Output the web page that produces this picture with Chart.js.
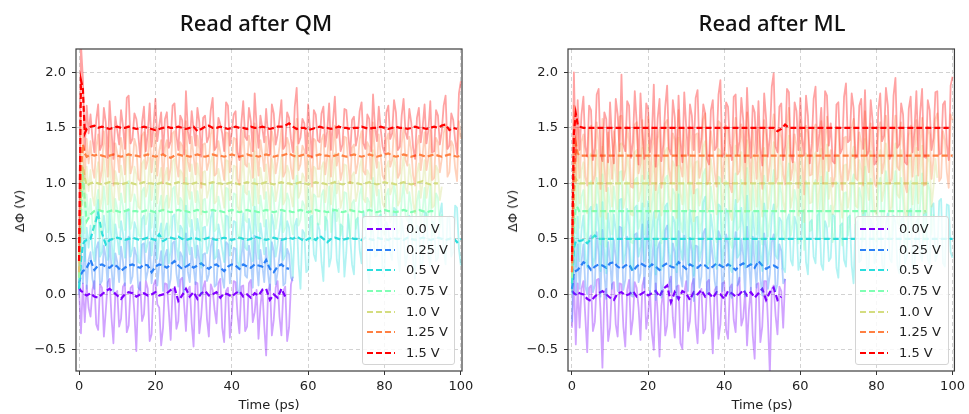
<!DOCTYPE html>
<html><head><meta charset="utf-8">
<script src="https://cdn.jsdelivr.net/npm/chart.js@4.4.1/dist/chart.umd.min.js"></script>
<style>
html,body{margin:0;padding:0;background:#fff;}
#root{position:relative;width:969px;height:414px;overflow:hidden;font-family:"DejaVu Sans",sans-serif;color:#222;}
.pane{position:absolute;top:0;height:414px;}
.title{position:absolute;top:8px;font-family:"Noto Sans",sans-serif;font-size:22px;font-weight:500;color:#111;transform:translateX(-50%);white-space:nowrap;line-height:28px;}
.xlab{position:absolute;top:397px;font-size:13px;transform:translateX(-50%);white-space:nowrap;line-height:16px;}
.ylab{position:absolute;font-size:13px;white-space:nowrap;line-height:16px;transform:translate(-50%,-50%) rotate(-90deg);}
.legend{position:absolute;top:216px;height:149px;box-sizing:border-box;border:1px solid #d4d4d4;border-radius:3px;background:rgba(255,255,255,0.82);}
.row{position:absolute;left:0;right:0;height:20px;}
.row svg{position:absolute;left:4px;top:8px;}
.row span{position:absolute;left:43px;top:2px;font-size:13px;line-height:16px;white-space:nowrap;}
</style></head>
<body><div id="root">
<div class="pane" style="left:0;width:480px;"><canvas id="cQM" width="480" height="414"></canvas></div>
<div class="pane" style="left:480px;width:489px;"><canvas id="cML" width="489" height="414"></canvas></div>
<div class="title" style="left:256px;">Read after QM</div>
<div class="title" style="left:772px;">Read after ML</div>
<div class="xlab" style="left:269px;">Time (ps)</div>
<div class="xlab" style="left:762px;">Time (ps)</div>
<div class="ylab" style="left:20px;top:211px;">ΔΦ (V)</div>
<div class="ylab" style="left:513px;top:211px;">ΔΦ (V)</div>
<div class="legend" id="legQM" style="left:362px;width:93px;"></div>
<div class="legend" id="legML" style="left:855px;width:94px;"></div>
</div>
<script>
// time grid of the running averages (ps)
const T = [0,0.5,1,1.5,2,3,4,5,6,7,8,9,10,11,12,13,14,15,16,17,18,19,20,21,22,23,24,25,26,27,28,29,30,31,32,33,34,35,36,37,38,39,40,41,42,43,44,45,46,47,48,49,50,51,52,53,54,55,56,57,58,59,60,61,62,63,64,65,66,67,68,69,70,71,72,73,74,75,76,77,78,79,80,81,82,83,84,85,86,87,88,89,90,91,92,93,94,95,96,97,98,99,100];
// time grid of the raw traces (ps)
const TR = [0,0.5,1,1.5,2,2.5,3,3.5,4,4.5,5,5.5,6,6.5,7,7.5,8,8.5,9,9.5,10,10.5,11,11.5,12,12.5,13,13.5,14,14.5,15,15.5,16,16.5,17,17.5,18,18.5,19,19.5,20,20.5,21,21.5,22,22.5,23,23.5,24,24.5,25,25.5,26,26.5,27,27.5,28,28.5,29,29.5,30,30.5,31,31.5,32,32.5,33,33.5,34,34.5,35,35.5,36,36.5,37,37.5,38,38.5,39,39.5,40,40.5,41,41.5,42,42.5,43,43.5,44,44.5,45,45.5,46,46.5,47,47.5,48,48.5,49,49.5,50,50.5,51,51.5,52,52.5,53,53.5,54,54.5,55,55.5,56,56.5,57,57.5,58,58.5,59,59.5,60,60.5,61,61.5,62,62.5,63,63.5,64,64.5,65,65.5,66,66.5,67,67.5,68,68.5,69,69.5,70,70.5,71,71.5,72,72.5,73,73.5,74,74.5,75,75.5,76,76.5,77,77.5,78,78.5,79,79.5,80,80.5,81,81.5,82,82.5,83,83.5,84,84.5,85,85.5,86,86.5,87,87.5,88,88.5,89,89.5,90,90.5,91,91.5,92,92.5,93,93.5,94,94.5,95,95.5,96,96.5,97,97.5,98,98.5,99,99.5,100];
const labelsQM = ['0.0 V','0.25 V','0.5 V','0.75 V','1.0 V','1.25 V','1.5 V'];
const labelsML = ['0.0V','0.25 V','0.5 V','0.75 V','1.0 V','1.25 V','1.5 V'];
const xTicks = [0,20,40,60,80,100];
const yTicks = [-0.5,0,0.5,1,1.5,2];

// ================= Read after QM : raw traces =================
const qmRaw150 = [0.4,2.25,1.95,1.3,1.7,1.45,
1.62,1.41,1.28,1.57,1.71,1.30,1.35,1.68,1.55,1.23,1.74,1.47,1.22,1.60,1.48,1.35,1.66,1.52,1.31,1.77,
1.79,1.36,1.40,1.63,1.58,1.44,1.25,1.55,1.69,1.29,1.45,1.72,1.33,1.51,1.76,1.38,1.52,1.64,1.27,1.58,
1.64,1.32,1.38,1.70,1.72,1.43,1.30,1.61,1.57,1.26,1.83,1.47,1.36,1.65,1.49,1.34,1.68,1.55,1.24,1.59,
1.61,1.37,1.42,1.66,1.77,1.30,1.33,1.59,1.53,1.45,1.29,1.73,1.70,1.34,1.46,1.62,1.65,1.28,1.21,1.54,
1.74,1.42,1.39,1.68,1.56,1.29,1.81,1.52,1.32,1.61,1.50,1.37,1.67,1.44,1.26,1.71,1.63,1.35,1.44,1.58,
1.75,1.31,1.34,1.64,1.59,1.40,1.28,1.69,1.86,1.36,1.41,1.58,1.54,1.27,1.71,1.48,1.23,1.66,1.62,1.39,
1.37,1.63,1.69,1.33,1.47,1.72,1.30,1.55,1.78,1.41,1.52,1.29,1.35,1.67,1.66,1.44,1.25,1.57,1.60,1.34,
1.43,1.65,1.73,1.36,1.31,1.62,1.58,1.29,1.80,1.51,1.38,1.69,1.49,1.33,1.27,1.64,1.70,1.40,1.45,1.75,
1.64,1.30,1.33,1.61,1.76,1.46,1.40,1.67,1.55,1.32,1.22,1.59,1.68,1.37,1.51,1.71,1.36,1.48,1.74,1.28,
1.29,1.66,1.61,1.35,1.47,1.70,1.79,1.31,1.34,1.63,1.57,1.39,1.26,1.81,1.92];
const qmRaw125 = [0.2,1.6,1.4,1.05,1.4,1.18,
1.38,1.14,1.05,1.33,1.44,1.01,1.12,1.47,1.30,1.06,1.49,1.22,0.98,1.36,1.27,1.10,1.41,1.29,1.08,1.51,
1.52,1.09,1.16,1.40,1.33,1.04,1.02,1.43,1.46,1.13,1.21,1.48,1.10,1.27,1.50,1.07,1.29,1.39,1.00,1.32,
1.39,1.03,1.14,1.45,1.47,1.18,1.06,1.37,1.34,1.01,1.56,1.20,1.11,1.42,1.24,1.08,1.43,1.31,0.96,1.35,
1.36,1.12,1.19,1.44,1.51,1.07,1.09,1.38,1.28,1.15,1.03,1.46,1.45,1.10,1.22,1.41,1.40,1.04,0.99,1.30,
1.48,1.17,1.15,1.43,1.31,1.05,1.54,1.28,1.07,1.39,1.26,1.11,1.42,1.19,1.01,1.47,1.37,1.09,1.20,1.33,
1.49,1.06,1.10,1.41,1.35,1.14,1.04,1.44,1.58,1.12,1.17,1.34,1.30,1.02,1.46,1.23,0.97,1.40,1.38,1.13,
1.13,1.39,1.44,1.08,1.23,1.47,1.06,1.30,1.52,1.16,1.27,1.03,1.11,1.42,1.41,1.19,1.00,1.32,1.35,1.09,
1.18,1.40,1.47,1.11,1.08,1.37,1.33,1.04,1.55,1.26,1.14,1.44,1.25,1.07,1.03,1.39,1.45,1.15,1.21,1.50,
1.39,1.05,1.09,1.36,1.50,1.21,1.16,1.42,1.30,1.07,0.98,1.34,1.43,1.12,1.26,1.46,1.12,1.23,1.48,1.03,
1.05,1.41,1.37,1.10,1.22,1.45,1.53,1.06,1.10,1.38,1.34,1.14,1.02,1.56,1.40];
const qmRaw100 = [0.15,1.3,1.2,0.8,1.15,0.93,
1.12,0.89,0.80,1.08,1.19,0.76,0.87,1.22,1.05,0.81,1.24,0.97,0.74,1.11,1.02,0.85,1.16,1.04,0.83,1.26,
1.27,0.84,0.91,1.15,1.08,0.79,0.77,1.18,1.21,0.88,0.96,1.23,0.85,1.02,1.25,0.82,1.04,1.14,0.76,1.07,
1.14,0.78,0.89,1.20,1.22,0.93,0.81,1.12,1.09,0.76,1.30,0.95,0.86,1.17,0.99,0.83,1.18,1.06,0.72,1.10,
1.11,0.87,0.94,1.19,1.26,0.82,0.84,1.13,1.03,0.90,0.78,1.21,1.20,0.85,0.97,1.16,1.15,0.79,0.75,1.05,
1.23,0.92,0.90,1.18,1.06,0.80,1.29,1.03,0.82,1.14,1.01,0.86,1.17,0.94,0.76,1.22,1.12,0.84,0.95,1.08,
1.24,0.81,0.85,1.16,1.10,0.89,0.79,1.19,1.33,0.87,0.92,1.09,1.05,0.77,1.21,0.98,0.73,1.15,1.13,0.88,
0.88,1.14,1.19,0.83,0.98,1.22,0.81,1.05,1.27,0.91,1.02,0.78,0.86,1.17,1.16,0.94,0.75,1.07,1.10,0.84,
0.93,1.15,1.22,0.86,0.83,1.12,1.08,0.79,1.30,1.01,0.89,1.19,1.00,0.82,0.78,1.14,1.20,0.90,0.96,1.25,
1.14,0.80,0.84,1.11,1.25,0.96,0.91,1.17,1.05,0.82,0.73,1.09,1.18,0.87,1.01,1.21,0.87,0.98,1.23,0.78,
0.80,1.16,1.12,0.85,0.97];
const qmRaw075 = [0.1,0.6,1.15,0.55,0.9,0.68,
0.86,0.64,0.55,0.83,0.94,0.51,0.62,0.97,0.80,0.56,0.99,0.72,0.50,0.86,0.77,0.60,0.91,0.79,0.58,1.01,
1.02,0.59,0.66,0.90,0.83,0.54,0.52,0.93,0.96,0.63,0.71,0.98,0.60,0.77,1.00,0.57,0.79,0.89,0.51,0.82,
0.89,0.53,0.64,0.95,0.97,0.68,0.56,0.87,0.84,0.51,1.05,0.70,0.61,0.92,0.74,0.58,0.93,0.81,0.48,0.85,
0.86,0.62,0.69,0.94,1.01,0.57,0.59,0.88,0.78,0.65,0.53,0.96,0.95,0.60,0.72,0.91,0.90,0.54,0.50,0.80,
0.98,0.67,0.65,0.93,0.81,0.55,1.04,0.78,0.57,0.89,0.76,0.61,0.92,0.69,0.51,0.97,0.87,0.59,0.70,0.83,
0.99,0.56,0.60,0.91,0.85,0.64,0.54,0.94,1.07,0.62,0.67,0.84,0.80,0.52,0.96,0.73,0.49,0.90,0.88,0.63,
0.63,0.89,0.94,0.58,0.73,0.97,0.56,0.80,1.02,0.66,0.77,0.53,0.61,0.92,0.91,0.69,0.50,0.82,0.85,0.59,
0.68,0.90,0.97,0.61,0.58,0.87,0.83,0.54,1.05,0.76,0.64,0.94,0.75,0.57,0.53,0.89,0.95,0.65,0.71,1.00,
0.89,0.55,0.59,0.86,1.00,0.71,0.66,0.92,0.80,0.57,0.48,0.84,0.93,0.62,0.76,0.96,0.62,0.73,0.98,0.53,
0.55,0.91,0.87,0.60,0.72];
const qmRaw050 = [0.05,0.35,0.7,0.3,0.6,0.42,
0.62,0.40,0.30,0.69,0.85,0.34,0.38,0.71,0.58,0.31,0.74,0.48,0.27,0.63,0.52,0.36,0.66,0.55,0.33,0.76,
0.77,0.34,0.41,0.65,0.59,0.29,0.28,0.68,0.71,0.38,0.46,0.73,0.35,0.52,0.75,0.32,0.54,0.64,0.26,0.57,
0.64,0.28,0.39,0.70,0.72,0.43,0.31,0.62,0.59,0.26,0.80,0.45,0.36,0.67,0.49,0.33,0.68,0.56,0.24,0.60,
0.61,0.37,0.44,0.69,0.76,0.32,0.34,0.63,0.53,0.40,0.29,0.71,0.70,0.35,0.47,0.66,0.65,0.29,0.25,0.55,
0.73,0.42,0.40,0.68,0.56,0.30,0.79,0.53,0.32,0.64,0.51,0.36,0.67,0.44,0.26,0.72,0.62,0.34,0.45,0.58,
0.74,0.31,0.35,0.66,0.60,0.41,0.15,0.62,0.68,0.27,0.05,0.58,0.55,0.20,0.22,0.69,0.71,0.36,0.30,0.64,
0.58,0.29,0.12,0.70,0.66,0.25,0.33,0.77,0.74,0.31,0.20,0.63,0.61,0.16,0.38,0.72,0.52,0.27,0.18,0.67,
0.69,0.40,0.28,0.75,0.63,0.22,0.10,0.59,0.57,0.34,0.35,0.70,0.72,0.19,0.24,0.65,0.60,0.37,0.31,0.78,
0.76,0.33,0.21,0.68,0.54,0.26,0.36,0.71,0.67,0.30,0.14,0.62,0.59,0.23,0.29,0.74,0.73,0.35,0.25,0.66,
0.64,0.30,0.33,0.72,0.82,0.40,0.27,0.69,0.70,0.34,0.38,0.80,0.78,0.41,0.26];
const qmRaw025 = [0.0,0.4,0.1,0.45,0.05,0.31,
0.38,0.14,0.05,0.41,0.47,0.09,0.12,0.44,0.33,0.07,0.50,0.23,0.02,0.37,0.29,0.11,0.43,0.30,0.08,0.48,
0.52,0.10,0.16,0.42,0.35,0.06,0.04,0.45,0.46,0.13,0.21,0.47,0.10,0.28,0.49,0.08,0.27,0.39,0.03,0.34,
0.40,0.05,0.14,0.46,0.48,0.19,0.07,0.38,0.34,0.02,0.55,0.20,0.11,0.42,0.24,0.09,0.44,0.31,0.00,0.36,
0.37,0.12,0.18,0.43,0.51,0.07,0.09,0.40,0.30,0.15,0.06,0.47,0.45,0.10,0.22,0.42,0.41,0.04,0.01,0.33,
0.49,0.17,0.15,0.44,0.32,0.06,0.53,0.28,0.08,0.40,0.26,0.11,0.42,0.19,0.04,0.47,0.39,0.09,0.20,0.35,
0.50,0.08,0.10,0.41,0.36,0.15,0.12];
const qmRaw000 = [0.05,-0.35,0.1,-0.25,0.08,-0.12,
-0.20,0.04,0.12,-0.27,-0.32,0.09,0.06,-0.38,-0.15,0.11,0.14,-0.21,-0.44,0.01,0.03,-0.29,-0.22,0.07,0.10,-0.34,
-0.28,0.06,0.08,-0.17,-0.51,0.02,0.11,-0.24,-0.18,0.12,0.05,-0.42,-0.36,0.08,0.13,-0.09,-0.12,-0.46,-0.30,0.10,
0.09,-0.15,-0.41,0.05,0.02,-0.31,-0.24,0.13,0.15,-0.08,-0.33,0.04,0.07,-0.26,-0.47,0.11,0.10,-0.35,-0.19,0.06,
0.12,-0.22,-0.38,0.09,0.04,-0.14,-0.26,0.10,0.14,-0.30,-0.43,0.03,0.06,-0.39,-0.21,0.12,0.11,-0.18,-0.35,0.07,
0.08,-0.33,-0.29,0.10,0.13,-0.25,-0.16,0.04,-0.40,-0.11,0.05,-0.28,-0.55,0.02,0.09,-0.37,-0.23,0.06,0.12,-0.20,
-0.37,0.03,0.07,-0.42,-0.30,0.09,0.16];

// ================= Read after QM : running averages =================
const qmAvg150 = [0.3,1.93,1.85,1.45,1.49,
1.51,1.52,1.50,1.51,1.50,1.49,1.50,1.51,1.50,1.50,
1.51,1.50,1.49,1.50,1.51,1.50,1.49,1.48,1.49,1.50,
1.51,1.50,1.50,1.51,1.50,1.49,1.50,1.51,1.47,1.49,
1.51,1.52,1.50,1.50,1.51,1.50,1.49,1.50,1.51,1.50,
1.50,1.49,1.51,1.50,1.50,1.51,1.50,1.49,1.50,1.51,
1.51,1.52,1.54,1.51,1.49,1.50,1.50,1.48,1.49,1.50,
1.51,1.50,1.50,1.49,1.50,1.51,1.50,1.50,1.49,1.50,
1.50,1.51,1.50,1.49,1.50,1.50,1.51,1.50,1.49,1.50,
1.51,1.50,1.50,1.49,1.50,1.51,1.50,1.50,1.49,1.50,
1.51,1.50,1.52,1.53,1.48,1.50,1.49];
const qmAvg125 = [0.3,1.1,1.35,1.27,1.24,
1.26,1.25,1.26,1.25,1.24,1.25,1.26,1.25,1.24,1.25,
1.26,1.25,1.25,1.24,1.25,1.26,1.25,1.24,1.25,1.26,
1.24,1.23,1.25,1.26,1.25,1.25,1.24,1.25,1.26,1.25,
1.24,1.25,1.26,1.25,1.25,1.24,1.25,1.26,1.25,1.24,
1.25,1.26,1.25,1.25,1.24,1.25,1.26,1.25,1.24,1.25,
1.25,1.26,1.27,1.25,1.24,1.25,1.26,1.25,1.24,1.25,
1.26,1.25,1.25,1.24,1.25,1.26,1.25,1.24,1.25,1.26,
1.25,1.24,1.25,1.26,1.25,1.24,1.25,1.26,1.27,1.25,
1.24,1.25,1.26,1.25,1.24,1.25,1.26,1.25,1.24,1.25,
1.26,1.25,1.24,1.25,1.26,1.25,1.24,1.25];
const qmAvg100 = [0.2,0.9,1.15,1.05,0.98,
1.00,1.01,1.00,0.99,1.00,1.01,1.00,1.00,0.99,1.00,
1.01,1.00,0.99,1.00,1.01,1.00,1.00,0.99,1.00,1.01,
1.00,0.99,1.00,1.01,1.00,1.00,0.99,1.00,1.01,1.00,
0.99,1.00,1.01,1.00,1.00,0.99,1.00,1.01,1.00,0.99,
1.00,1.01,1.00,1.00,0.99,1.00,1.01,1.00,0.99,1.00,
1.01,1.00,1.00,0.99,1.00,1.01,1.00,0.99,1.00,1.01,
1.00,1.00,0.99,1.00,1.01,1.00,0.99,1.00,1.01,1.00,
1.00,0.99,1.00,1.01,1.00,0.99,1.00,1.01,1.00,1.00,
0.99,1.00,1.01,1.00,0.99,1.00,1.01,1.02,1.00,0.99,
1.00,1.00];
const qmAvg075 = [0.15,0.7,1.1,0.85,0.66,
0.72,0.75,0.76,0.75,0.74,0.75,0.76,0.75,0.74,0.75,
0.76,0.75,0.75,0.74,0.75,0.76,0.75,0.74,0.75,0.76,
0.75,0.74,0.75,0.76,0.75,0.75,0.74,0.75,0.76,0.75,
0.74,0.75,0.76,0.75,0.75,0.74,0.75,0.76,0.75,0.74,
0.75,0.76,0.75,0.75,0.74,0.75,0.76,0.75,0.74,0.75,
0.76,0.75,0.75,0.74,0.75,0.76,0.75,0.74,0.75,0.76,
0.75,0.75,0.74,0.75,0.76,0.75,0.74,0.75,0.76,0.75,
0.75,0.74,0.75,0.76,0.75,0.74,0.75,0.76,0.75,0.75,
0.74,0.75,0.76,0.75,0.74,0.75,0.76,0.75,0.74,0.75,
0.75];
const qmAvg050 = [0.05,0.3,0.45,0.48,0.49,
0.50,0.62,0.73,0.55,0.45,0.49,0.50,0.51,0.50,0.49,
0.50,0.51,0.50,0.49,0.50,0.51,0.50,0.49,0.54,0.48,
0.50,0.51,0.50,0.52,0.50,0.49,0.50,0.51,0.50,0.49,
0.50,0.51,0.50,0.49,0.50,0.51,0.50,0.49,0.50,0.51,
0.50,0.49,0.50,0.52,0.51,0.50,0.49,0.50,0.51,0.50,
0.49,0.50,0.51,0.50,0.52,0.50,0.48,0.50,0.51,0.49,
0.53,0.50,0.47,0.50,0.51,0.50,0.49,0.50,0.51,0.50,
0.50,0.49,0.51,0.50,0.49,0.51,0.50,0.50,0.49,0.51,
0.50,0.50,0.49,0.51,0.50,0.49,0.50,0.51,0.50,0.49,
0.50,0.51,0.50,0.49,0.50,0.51,0.47,0.50];
const qmAvg025 = [0.1,0.18,0.21,0.22,0.24,
0.31,0.22,0.26,0.27,0.25,0.24,0.27,0.25,0.21,0.24,
0.26,0.27,0.25,0.24,0.27,0.26,0.20,0.25,0.27,0.26,
0.24,0.27,0.30,0.26,0.23,0.25,0.27,0.24,0.26,0.28,
0.25,0.23,0.26,0.27,0.24,0.21,0.25,0.27,0.26,0.23,
0.27,0.25,0.24,0.27,0.26,0.25,0.31,0.23,0.20,0.25,
0.27,0.24,0.23];
const qmAvg000 = [0.06,0.03,0.02,0.0,-0.01,
0.01,-0.02,-0.03,0.00,0.03,0.05,0.02,-0.01,-0.04,0.00,
0.02,0.01,-0.02,0.00,0.01,-0.01,0.00,0.02,-0.01,0.00,
0.01,0.04,0.06,-0.06,-0.01,0.05,-0.02,0.02,-0.04,0.01,
0.03,-0.01,0.00,0.02,-0.03,0.01,0.00,-0.02,0.01,0.03,
-0.02,0.00,-0.03,0.01,-0.01,0.04,0.05,-0.05,0.00,-0.03,
0.05,-0.02];

// ================= Read after ML : raw traces =================
const mlRaw150 = [0.3,2.0,1.2,1.75,1.3,1.62,
1.78,1.33,1.24,1.70,1.66,1.21,1.32,1.80,1.85,1.27,1.20,1.64,1.58,1.19,1.73,1.41,1.18,1.76,1.62,1.29,
1.98,1.35,1.29,1.74,1.70,1.23,1.37,1.83,1.55,1.17,1.81,1.46,1.22,1.72,1.67,1.28,1.44,1.89,1.15,1.58,
1.76,1.20,1.35,1.69,1.88,1.31,1.26,1.75,1.60,1.16,1.79,1.39,1.19,1.82,1.52,1.25,1.71,1.61,1.30,1.77,
1.84,1.28,1.40,1.71,1.63,1.22,1.17,1.66,1.75,1.30,1.33,1.80,1.93,1.24,1.27,1.73,1.69,1.36,1.21,1.78,
1.80,1.26,1.38,1.77,1.57,1.19,1.86,1.45,1.23,1.70,1.64,1.27,1.74,1.32,1.16,1.81,1.59,1.24,1.42,1.87,
1.99,1.33,1.28,1.69,1.72,1.21,1.34,1.85,1.82,1.26,1.19,1.73,1.65,1.30,1.77,1.40,1.25,1.79,1.61,1.18,
1.36,1.76,1.87,1.29,1.45,1.68,1.22,1.83,1.79,1.34,1.54,1.20,1.18,1.71,1.73,1.27,1.31,1.78,1.90,1.37,
1.39,1.81,1.68,1.23,1.24,1.70,1.76,1.31,1.84,1.25,1.29,1.75,1.56,1.17,1.20,1.66,1.81,1.38,1.43,1.86,
1.70,1.22,1.26,1.79,1.95,1.32,1.35,1.72,1.62,1.19,1.17,1.67,1.78,1.28,1.48,1.83,1.30,1.64,1.85,1.24,
1.23,1.75,1.66,1.30,1.41,1.82,1.83,1.26,1.27,1.71,1.74,1.35,1.21,1.88,1.96];
const mlRaw125 = [0.2,1.7,1.0,1.5,1.05,1.38,
1.44,1.06,0.98,1.49,1.52,1.00,1.07,1.55,1.35,0.95,1.58,1.18,0.93,1.46,1.29,1.04,1.47,1.33,1.02,1.60,
1.61,1.03,1.12,1.51,1.38,0.97,0.96,1.53,1.55,1.09,1.18,1.57,1.04,1.36,1.60,0.99,1.31,1.48,0.94,1.40,
1.49,0.96,1.09,1.54,1.57,1.13,1.00,1.45,1.40,0.94,1.66,1.16,1.06,1.50,1.23,1.01,1.51,1.37,0.91,1.44,
1.45,1.05,1.15,1.58,1.63,0.99,1.03,1.47,1.33,1.10,0.97,1.56,1.54,1.01,1.20,1.52,1.48,0.98,0.92,1.39,
1.59,1.08,1.11,1.53,1.36,0.99,1.64,1.30,1.01,1.49,1.27,1.04,1.50,1.14,0.95,1.57,1.43,1.02,1.17,1.46,
1.62,1.00,1.05,1.50,1.41,1.08,0.99,1.54,1.68,1.03,1.13,1.44,1.34,0.96,1.56,1.21,0.90,1.52,1.46,1.07,
1.08,1.48,1.53,1.02,1.21,1.56,1.00,1.39,1.60,1.11,1.30,0.97,1.06,1.51,1.50,1.12,0.94,1.41,1.42,1.03,
1.14,1.50,1.58,1.05,1.03,1.46,1.37,0.98,1.65,1.24,1.10,1.54,1.26,1.00,0.97,1.48,1.55,1.09,1.19,1.61,
1.47,1.00,1.04,1.45,1.61,1.15,1.12,1.55,1.35,0.99,0.92,1.43,1.52,1.06,1.28,1.57,1.07,1.33,1.59,0.98,
0.99,1.51,1.44,1.04,1.22,1.58,1.63,1.02,1.05,1.47,1.39,1.10,0.96,1.62,1.57];
const mlRaw100 = [0.15,1.4,0.8,1.25,0.82,1.12,
1.19,0.81,0.73,1.24,1.27,0.75,0.82,1.30,1.10,0.70,1.33,0.93,0.68,1.21,1.04,0.79,1.22,1.08,0.77,1.35,
1.36,0.78,0.87,1.26,1.13,0.72,0.71,1.28,1.30,0.84,0.93,1.32,0.79,1.11,1.35,0.74,1.06,1.23,0.69,1.15,
1.24,0.71,0.84,1.29,1.32,0.88,0.75,1.20,1.15,0.69,1.41,0.91,0.81,1.25,0.98,0.76,1.26,1.12,0.66,1.19,
1.20,0.80,0.90,1.33,1.38,0.74,0.78,1.22,1.08,0.85,0.72,1.31,1.29,0.76,0.95,1.27,1.23,0.73,0.67,1.14,
1.34,0.83,0.86,1.28,1.11,0.74,1.39,1.05,0.76,1.24,1.02,0.79,1.25,0.89,0.70,1.32,1.18,0.77,0.92,1.21,
1.37,0.75,0.80,1.25,1.16,0.83,0.74,1.29,1.43,0.78,0.88,1.19,1.09,0.71,1.31,0.96,0.65,1.27,1.21,0.82,
0.83,1.23,1.28,0.77,0.96,1.31,0.75,1.14,1.35,0.86,1.05,0.72,0.81,1.26,1.25,0.87,0.69,1.16,1.17,0.78,
0.89,1.25,1.33,0.80,0.78,1.21,1.12,0.73,1.40,0.99,0.85,1.29,1.01,0.75,0.72,1.23,1.30,0.84,0.94,1.36,
1.22,0.75,0.79,1.20,1.36,0.90,0.87,1.30,1.10,0.74,0.67,1.18,1.27,0.81,1.03,1.32,0.82,1.07,1.34,0.73,
0.74,1.26,1.19,0.79,0.97,1.22,1.05];
const mlRaw075 = [0.1,1.1,0.55,1.0,0.6,0.88,
0.94,0.56,0.48,0.99,1.02,0.50,0.57,1.05,0.85,0.45,1.08,0.68,0.43,0.96,0.79,0.54,0.97,0.83,0.52,1.10,
1.11,0.53,0.62,1.01,0.88,0.47,0.46,1.03,1.05,0.59,0.68,1.07,0.54,0.86,1.10,0.49,0.81,0.98,0.44,0.90,
0.99,0.46,0.59,1.04,1.07,0.63,0.50,0.95,0.90,0.44,1.16,0.66,0.56,1.00,0.73,0.51,1.01,0.87,0.41,0.94,
0.95,0.55,0.65,1.08,1.13,0.49,0.53,0.97,0.83,0.60,0.47,1.06,1.04,0.51,0.70,1.02,0.98,0.48,0.42,0.89,
1.09,0.58,0.61,1.03,0.86,0.49,1.14,0.80,0.51,0.99,0.77,0.54,1.00,0.64,0.45,1.07,0.93,0.52,0.67,0.96,
1.12,0.50,0.55,1.00,0.91,0.58,0.49,1.04,1.18,0.53,0.63,0.94,0.84,0.46,1.06,0.71,0.40,1.02,0.96,0.57,
0.58,0.98,1.03,0.52,0.71,1.06,0.50,0.89,1.10,0.61,0.80,0.47,0.56,1.01,1.00,0.62,0.44,0.91,0.92,0.53,
0.64,1.00,1.08,0.55,0.53,0.96,0.87,0.48,1.15,0.74,0.60,1.04,0.76,0.50,0.47,0.98,1.05,0.59,0.69,1.11,
0.97,0.50,0.54,0.95,1.11,0.65,0.62,1.05,0.85,0.49,0.42,0.93,1.02,0.56,0.78,1.07,0.57,0.82,1.09,0.48,
0.49,1.01,0.94,0.54,0.72];
const mlRaw050 = [0.0,0.75,0.25,0.7,0.3,0.58,
0.71,0.32,0.24,0.76,0.79,0.26,0.33,0.81,0.60,0.21,0.83,0.44,0.19,0.73,0.55,0.30,0.72,0.58,0.28,0.85,
0.86,0.28,0.37,0.77,0.63,0.23,0.22,0.78,0.80,0.34,0.43,0.82,0.30,0.61,0.84,0.25,0.57,0.74,0.18,0.66,
0.74,0.22,0.35,0.79,0.82,0.38,0.26,0.70,0.65,0.20,0.90,0.41,0.31,0.75,0.48,0.27,0.76,0.62,0.17,0.69,
0.70,0.30,0.40,0.83,0.88,0.25,0.29,0.72,0.58,0.35,0.23,0.81,0.79,0.26,0.45,0.77,0.73,0.24,0.20,0.64,
0.85,0.33,0.36,0.78,0.61,0.24,0.89,0.55,0.27,0.74,0.53,0.29,0.75,0.39,0.21,0.82,0.68,0.27,0.42,0.71,
0.81,0.35,0.32,0.69,0.66,0.24,0.20,0.67,0.72,0.31,0.26,0.70,0.63,0.22,0.30,0.73,0.76,0.29,0.18,0.65,
0.67,0.34,0.28,0.71,0.74,0.27,0.22,0.66,0.60,0.30,0.33,0.72,0.70,0.24,0.15,0.62,0.64,0.31,0.25,0.69,
0.71,0.26,0.10,0.63,0.66,0.29,0.31,0.73,0.75,0.22,0.24,0.68,0.62,0.28,0.35,0.70,0.69,0.27,0.21,0.64,
0.73,0.32,0.29,0.71,0.65,0.26,0.19,0.67,0.70,0.28,0.34,0.74,0.77,0.25,0.23,0.66,0.68,0.36,0.30,0.72,
0.74,0.31,0.27,0.79,0.82,0.30,0.36,0.84,0.86,0.28,0.25,0.81,0.80,0.38,0.33];
const mlRaw025 = [-0.25,0.5,0.0,0.45,0.05,0.30,
0.45,0.07,0.00,0.50,0.53,0.02,0.08,0.56,0.36,-0.02,0.58,0.20,-0.04,0.47,0.31,0.05,0.49,0.34,0.03,0.61,
0.60,0.04,0.13,0.52,0.40,-0.01,-0.02,0.54,0.55,0.11,0.19,0.63,0.06,0.37,0.66,0.01,0.29,0.50,-0.05,0.41,
0.47,-0.03,0.10,0.58,0.62,0.15,0.02,0.46,0.38,-0.04,0.57,0.17,0.07,0.53,0.23,0.03,0.51,0.39,-0.06,0.44,
0.43,0.06,0.16,0.55,0.59,0.00,0.05,0.49,0.34,0.12,0.01,0.57,0.52,0.03,0.20,0.54,0.46,0.00,-0.03,0.40,
0.56,0.08,0.12,0.50,0.35,-0.02,0.61,0.30,0.04,0.52,0.27,0.06,0.48,0.14,-0.01,0.55,0.42,0.05,0.18,0.47,
0.54,0.03,0.09,0.45,0.39,0.10,0.14];
const mlRaw000 = [-0.3,0.15,-0.45,0.1,-0.3,0.05,
0.12,-0.20,-0.52,0.06,0.08,-0.33,-0.25,0.13,0.14,-0.15,-0.66,0.02,0.05,-0.42,-0.30,0.09,0.11,-0.27,-0.38,0.10,
0.09,-0.29,-0.47,0.04,0.13,-0.36,-0.22,0.11,0.06,-0.12,-0.41,0.08,0.15,-0.31,-0.18,0.03,-0.35,-0.50,0.10,-0.16,
-0.56,-0.10,0.04,-0.37,-0.28,0.10,0.16,-0.21,-0.39,0.07,0.08,-0.44,-0.49,0.01,0.12,-0.33,-0.24,0.09,0.14,-0.26,
-0.44,0.02,0.05,-0.35,-0.31,0.11,0.13,-0.19,-0.53,0.04,0.07,-0.40,-0.27,0.10,0.11,-0.32,-0.40,0.06,0.09,-0.23,
-0.34,0.08,0.15,-0.28,-0.21,0.03,-0.46,-0.14,0.06,-0.37,-0.58,0.09,0.10,-0.43,-0.29,0.12,0.12,-0.25,-0.72,0.05,
0.08,-0.19,-0.36,0.07,0.03,-0.30,0.14];

// ================= Read after ML : running averages =================
const mlAvg150 = [0.3,1.45,1.63,1.53,1.51,
1.5,1.5,1.5,1.5,1.5,1.5,1.5,1.5,1.5,1.5,
1.5,1.5,1.5,1.5,1.5,1.5,1.5,1.5,1.5,1.5,
1.5,1.5,1.5,1.5,1.5,1.5,1.5,1.5,1.5,1.5,
1.5,1.5,1.5,1.5,1.5,1.5,1.5,1.5,1.5,1.5,
1.5,1.5,1.5,1.5,1.5,1.5,1.5,1.5,1.5,1.5,
1.5,1.47,1.49,1.53,
1.5,1.5,1.5,1.5,1.5,1.5,1.5,1.5,1.5,1.5,
1.5,1.5,1.5,1.5,1.5,1.5,1.5,1.5,1.5,1.5,
1.5,1.5,1.5,1.5,1.5,1.5,1.5,1.5,1.5,1.5,
1.5,1.5,1.5,1.5,1.5,1.5,1.5,1.5,1.5,1.5,
1.5,1.5,1.5];
const mlAvg125 = [0.2,1.05,1.36,1.27,1.25,
1.25,1.25,1.25,1.25,1.25,1.25,1.25,1.25,1.25,1.25,
1.25,1.25,1.25,1.25,1.25,1.25,1.25,1.25,1.25,1.25,
1.25,1.25,1.25,1.25,1.25,1.25,1.25,1.25,1.25,1.25,
1.25,1.25,1.25,1.25,1.25,1.25,1.25,1.25,1.25,1.25,
1.25,1.25,1.25,1.25,1.25,1.25,1.25,1.25,1.25,1.25,
1.25,1.25,1.25,1.25,1.25,1.25,1.25,1.25,1.25,1.25,
1.25,1.25,1.25,1.25,1.25,1.25,1.25,1.25,1.25,1.25,
1.25,1.25,1.25,1.25,1.25,1.25,1.25,1.25,1.25,1.25,
1.25,1.25,1.25,1.25,1.25,1.25,1.25,1.25,1.25,1.25,
1.25,1.25,1.25,1.25,1.25,1.25,1.25,1.25];
const mlAvg100 = [0.2,0.9,1.04,1.01,1.0,
1,1,1,1,1,1,1,1,1,1,
1,1,1,1,1,1,1,1,1,1,
1,1,1,1,1,1,1,1,1,1,
1,1,1,1,1,1,1,1,1,1,
1,1,1,1,1,1,1,1,1,1,
1,1,1,1,1,1,1,1,1,1,
1,1,1,1,1,1,1,1,1,1,
1,1,1,1,1,1,1,1,1,1,
1,1,1,1,1,1,1,1,1,1,
1,1];
const mlAvg075 = [0.15,0.62,0.79,0.78,0.74,
0.75,0.75,0.75,0.75,0.75,0.75,0.75,0.75,0.75,0.75,
0.75,0.75,0.75,0.75,0.75,0.75,0.75,0.75,0.75,0.75,
0.75,0.75,0.75,0.75,0.75,0.75,0.75,0.75,0.75,0.75,
0.75,0.75,0.75,0.75,0.75,0.75,0.75,0.75,0.75,0.75,
0.75,0.75,0.75,0.75,0.75,0.75,0.75,0.75,0.75,0.75,
0.75,0.75,0.75,0.75,0.75,0.75,0.75,0.75,0.75,0.75,
0.75,0.75,0.75,0.75,0.75,0.75,0.75,0.75,0.75,0.75,
0.75,0.75,0.75,0.75,0.75,0.75,0.75,0.75,0.75,0.75,
0.75,0.75,0.75,0.75,0.75,0.75,0.75,0.75,0.75,0.75,
0.75];
const mlAvg050 = [0.1,0.42,0.48,0.49,0.48,
0.49,0.46,0.50,0.53,0.50,
0.5,0.5,0.5,0.5,0.5,0.5,0.5,0.5,0.5,0.5,
0.5,0.5,0.5,0.5,0.5,0.5,0.5,0.5,0.5,0.5,
0.5,0.5,0.5,0.5,0.5,0.5,0.5,0.5,0.5,0.5,
0.5,0.5,0.5,0.5,0.5,0.5,0.5,0.5,0.5,0.5,
0.5,0.5,0.5,0.5,0.5,0.5,0.5,0.5,0.5,0.5,
0.5,0.5,0.5,0.5,0.5,0.5,0.5,0.5,0.5,0.5,
0.5,0.5,0.5,0.5,0.5,0.5,0.5,0.5,0.5,0.5,
0.5,0.5,0.5,0.5,0.5,0.5,0.5,0.5,0.5,0.5,
0.5,0.5,0.5,0.5,0.5,0.5,0.5,0.5,0.5,0.5,
0.5,0.5,0.5];
const mlAvg025 = [0.05,0.2,0.21,0.22,0.24,
0.29,0.27,0.22,0.25,0.27,0.26,0.24,0.28,0.29,0.25,
0.23,0.26,0.27,0.21,0.25,0.28,0.26,0.24,0.27,0.25,
0.22,0.26,0.28,0.25,0.24,0.29,0.26,0.23,0.27,0.25,
0.24,0.27,0.26,0.23,0.25,0.28,0.26,0.24,0.27,0.25,
0.22,0.26,0.28,0.25,0.27,0.24,0.30,0.26,0.23,0.25,
0.26,0.24,0.23];
const mlAvg000 = [0.03,0.01,0.0,0.02,0.01,
0.00,-0.04,-0.06,-0.02,0.01,0.03,0.00,-0.03,-0.05,0.01,
0.02,-0.01,0.00,0.03,-0.02,0.00,0.02,-0.01,0.01,0.03,
-0.02,0.05,0.08,-0.07,0.02,-0.04,0.03,0.01,-0.05,0.02,
0.00,0.04,-0.02,0.01,-0.03,0.02,0.00,-0.04,0.03,0.01,
-0.02,0.00,0.04,-0.01,0.02,-0.03,0.01,0.05,-0.05,0.02,
0.06,-0.05,-0.02];

const palette = ['rgb(128,0,255)','rgb(43,128,246)','rgb(42,221,221)','rgb(128,255,180)','rgb(212,221,128)','rgb(255,128,66)','rgb(255,0,0)'];
function rgba(c,a){return c.replace('rgb(','rgba(').replace(')',','+a+')');}
function pts(a,t){return a.map((y,i)=>({x:t[i],y:y}));}
function fmtY(v){return (v<0?'\u2212':'')+Math.abs(v).toFixed(1);}

const framePlugin = {id:'frame', afterDatasetsDraw(c){const a=c.chartArea,ctx=c.ctx;ctx.save();ctx.strokeStyle='#3c3c3c';ctx.lineWidth=1.2;ctx.strokeRect(a.left,a.top,a.right-a.left,a.bottom-a.top);ctx.restore();}};

function build(id, raws, avgs, axisW, padR, xmin, xmax){
  const ds=[];
  raws.forEach((r,k)=>{
    ds.push({data:pts(r,TR), borderColor:rgba(palette[k],0.36), borderWidth:1.8, borderJoinStyle:'round', pointRadius:0, order:1000-ds.length});
    ds.push({data:pts(avgs[k],T), borderColor:palette[k], borderWidth:2.2, borderDash:[6,3], pointRadius:0, order:1000-ds.length});
  });
  const gridCommon = {color:'#d2d2d2', lineWidth:1, tickLength:4, tickColor:'#333', tickWidth:1};
  const tickFont = {family:'DejaVu Sans', size:13};
  return new Chart(document.getElementById(id), {
    type:'line',
    data:{datasets:ds},
    options:{
      animation:false, responsive:false, devicePixelRatio:1,
      layout:{padding:{left:0,top:49,right:padR,bottom:0}},
      plugins:{legend:{display:false}, tooltip:{enabled:false}, title:{display:false}},
      elements:{line:{tension:0}},
      scales:{
        x:{type:'linear', min:xmin, max:xmax,
           afterBuildTicks:s=>{s.ticks=xTicks.map(v=>({value:v}));},
           afterFit:s=>{s.height=43;},
           ticks:{font:tickFont, color:'#222', padding:4, maxRotation:0, autoSkip:false, callback:v=>String(v)},
           grid:gridCommon, border:{display:false, dash:[4,3]}},
        y:{type:'linear', min:-0.69, max:2.21,
           afterBuildTicks:s=>{s.ticks=yTicks.map(v=>({value:v}));},
           afterFit:s=>{s.width=axisW;},
           ticks:{font:tickFont, color:'#222', padding:6, autoSkip:false, callback:v=>fmtY(v)},
           grid:gridCommon, border:{display:false, dash:[4,3]}}
      }
    },
    plugins:[framePlugin]
  });
}

build('cQM',[qmRaw000,qmRaw025,qmRaw050,qmRaw075,qmRaw100,qmRaw125,qmRaw150],
            [qmAvg000,qmAvg025,qmAvg050,qmAvg075,qmAvg100,qmAvg125,qmAvg150],76,18,-0.8,100.3);
build('cML',[mlRaw000,mlRaw025,mlRaw050,mlRaw075,mlRaw100,mlRaw125,mlRaw150],
            [mlAvg000,mlAvg025,mlAvg050,mlAvg075,mlAvg100,mlAvg125,mlAvg150],88,13,-1.05,100.5);

function legend(id, labels){
  const el=document.getElementById(id);
  labels.forEach((t,k)=>{
    const row=document.createElement('div');
    row.className='row';
    row.style.top=(2+20.65*k)+'px';
    row.innerHTML='<svg width="30" height="4"><line x1="0" y1="2" x2="28" y2="2" stroke="'+palette[k]+'" stroke-width="2" stroke-dasharray="6,3"/></svg><span>'+t+'</span>';
    el.appendChild(row);
  });
}
legend('legQM', labelsQM);
legend('legML', labelsML);
</script>
</body></html>
